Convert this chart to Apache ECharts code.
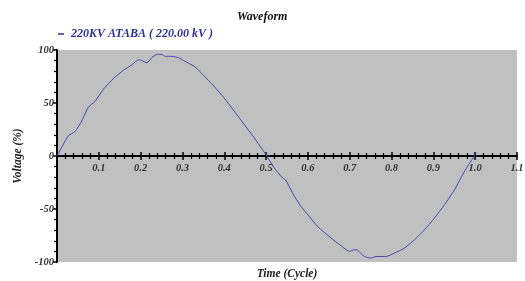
<!DOCTYPE html>
<html>
<head>
<meta charset="utf-8">
<script src="https://cdn.jsdelivr.net/npm/echarts@6/dist/echarts.min.js"></script>
<style>
  html, body { margin: 0; padding: 0; background: #fff; }
  #chart { width: 525px; height: 281px; }
</style>
</head>
<body>
<div id="chart"></div>
<script>
// 波形数据
const timeValues = [0, 0.027, 0.043, 0.059, 0.075, 0.091, 0.111, 0.135, 0.159, 0.179, 0.195, 0.203, 0.215, 0.227, 0.24, 0.251, 0.259, 0.275, 0.291, 0.303, 0.331, 0.351, 0.375, 0.399, 0.423, 0.447, 0.471, 0.499, 0.519, 0.539, 0.547, 0.563, 0.583, 0.603, 0.623, 0.655, 0.679, 0.699, 0.711, 0.719, 0.735, 0.751, 0.763, 0.787, 0.807, 0.831, 0.855, 0.879, 0.903, 0.927, 0.951, 0.966, 0.982, 0.998, 1.003];
const voltageValues = [0, 19, 23, 33, 46, 51.5, 63, 73, 81, 86, 90.7, 90, 88, 93, 96, 95.7, 94, 94, 92.6, 90, 83.8, 75.8, 66, 55, 42.7, 30, 17.4, 1.6, -11, -20.5, -22.7, -34.7, -47.4, -56.9, -66.4, -77.3, -84.6, -90, -88.4, -89, -94.8, -96.3, -94.8, -94.8, -91.6, -86.8, -79, -69.5, -58.4, -45.8, -31.6, -20.5, -9.5, 0, 3];
const seriesName = '220KV ATABA ( 220.00 kV )';
const chartTitle = 'Waveform';
const xName = 'Time (Cycle)';
const yName = 'Voltage (%)';

const FONT = '"Liberation Serif", "DejaVu Serif", serif';
const italicBold = { fontFamily: FONT, fontStyle: 'italic', fontWeight: 'bold' };

const GRID_TOP = 50, GRID_BOTTOM = 19, CHART_H = 281;
// 横轴放在 y=0 处 (-100..100 的中点)
const zeroOffset = -(CHART_H - GRID_TOP - GRID_BOTTOM) / 2;

const chart = echarts.init(document.getElementById('chart'));

const xBase = { type: 'value', min: 0, max: 1.1, interval: 0.1, position: 'bottom', splitLine: { show: false } };
const tickStyle = { color: '#000', width: 1.5 };
const minorStyle = { color: '#000', width: 1.2 };

chart.setOption({
    animation: false,
    title: {
        text: chartTitle,
        left: 232, top: 6,
        textStyle: Object.assign({ fontSize: 12, color: '#111' }, italicBold)
    },
    legend: {
        left: 53, top: 23,
        icon: 'rect', itemWidth: 6, itemHeight: 1.5, itemGap: 4,
        textStyle: Object.assign({ fontSize: 12, color: '#2e2e9c', padding: [0, 0, 0, 2] }, italicBold),
        data: [seriesName]
    },
    grid: {
        left: 57, right: 8, top: GRID_TOP, bottom: GRID_BOTTOM,
        outerBoundsMode: 'none',
        containLabel: false,
        show: true, backgroundColor: '#c0c0c0', borderWidth: 0
    },
    xAxis: [
        // 主轴: 零线处, 刻度向下 + 标签
        Object.assign({}, xBase, {
            offset: zeroOffset,
            axisLine: { onZero: false, lineStyle: { color: '#000', width: 2 } },
            axisTick: { show: true, inside: false, length: 4, lineStyle: tickStyle },
            minorTick: { show: true, splitNumber: 5, length: 3, lineStyle: minorStyle },
            axisLabel: Object.assign({ showMinLabel: false, fontSize: 10.5, color: '#333', margin: 7,
                formatter: v => v.toFixed(1) }, italicBold)
        }),
        // 辅助轴: 刻度向上, 形成穿过轴线的刻度
        Object.assign({}, xBase, {
            offset: zeroOffset,
            axisLine: { show: false, onZero: false },
            axisTick: { show: true, inside: true, length: 4, lineStyle: tickStyle },
            minorTick: { show: true, splitNumber: 5, length: 3, lineStyle: minorStyle },
            axisLabel: { show: false }
        }),
        // 仅用于轴名称
        Object.assign({}, xBase, {
            axisLine: { show: false, onZero: false },
            axisTick: { show: false },
            axisLabel: { show: false },
            name: xName,
            nameLocation: 'middle',
            nameGap: 6,
            nameTextStyle: Object.assign({ fontSize: 11.5, color: '#222' }, italicBold)
        })
    ],
    yAxis: {
        type: 'value', min: -100, max: 100, interval: 50, position: 'left',
        name: yName,
        nameLocation: 'middle',
        nameGap: 33,
        nameTextStyle: Object.assign({ fontSize: 11.5, color: '#222' }, italicBold),
        axisLine: { show: true, onZero: false, lineStyle: { color: '#000', width: 2 } },
        axisTick: { show: true, length: 4, lineStyle: tickStyle },
        minorTick: { show: true, splitNumber: 5, length: 3, lineStyle: minorStyle },
        axisLabel: Object.assign({ fontSize: 10.5, color: '#333', margin: 3 }, italicBold),
        splitLine: { show: false }
    },
    series: [{
        name: seriesName,
        type: 'line',
        xAxisIndex: 0,
        yAxisIndex: 0,
        data: timeValues.map((t, i) => [t, voltageValues[i]]),
        showSymbol: false,
        smooth: 0.2,
        lineStyle: { color: '#4848b0', width: 1 },
        itemStyle: { color: '#2e2e9c' }
    }]
});
</script>
</body>
</html>
